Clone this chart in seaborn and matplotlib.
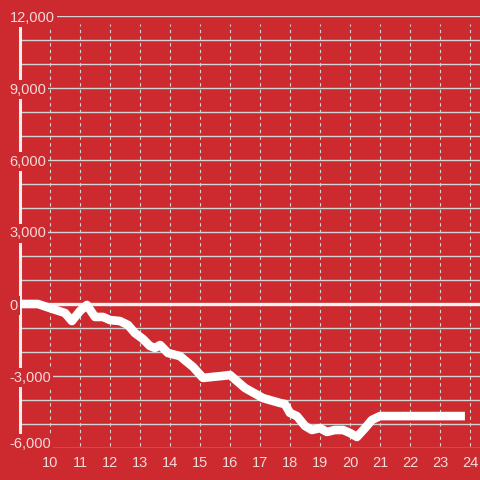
import matplotlib
matplotlib.use("Agg")
import matplotlib.pyplot as plt
import matplotlib.transforms as mtransforms
import numpy as np
import pandas as pd
import seaborn as sns

BG = "#cc2a2f"
GRID = "#d4d4d4"
TEXT = "#f3dada"

# Hours of the day and the running value
hours = [8.93, 9.6, 10.0, 10.5, 10.73, 11.0, 11.23, 11.5, 11.77, 12.0, 12.33, 12.6,
         12.83, 13.1, 13.33, 13.5, 13.67, 13.93, 14.33, 14.77, 15.1, 15.4, 15.73,
         16.0, 16.5, 17.1, 17.67, 17.83, 18.0, 18.23, 18.5, 18.73, 19.0, 19.23,
         19.5, 19.77, 20.0, 20.23, 20.5, 20.73, 21.0, 23.83]
values = [0, 0, -170, -375, -710, -290, -40, -540, -540, -670, -710, -875,
          -1210, -1460, -1750, -1830, -1710, -2040, -2170, -2625, -3080, -3040, -3000,
          -2960, -3500, -3920, -4125, -4170, -4540, -4670, -5080, -5250, -5170, -5330,
          -5250, -5250, -5375, -5540, -5170, -4830, -4670, -4670]

x_ticks = list(range(10, 25))
y_major = list(range(-6000, 12001, 3000))
y_minor = list(range(-6000, 12001, 1000))

df = pd.DataFrame({"hour": hours, "value": values})

sns.set_style("white", {"axes.facecolor": BG, "figure.facecolor": BG})
plt.rcParams["font.family"] = ["Liberation Sans", "DejaVu Sans"]

fig = plt.figure(figsize=(4.8, 4.8), dpi=100)
ax = fig.add_axes([16 / 480, 32 / 480, 464 / 480, 432 / 480])
ax.set_facecolor(BG)

x_left, x_right = 8.867, 24.333
y_top_grid = 11667
y_bot_grid = -5917

# horizontal grid lines, starting at the left spine
for v in y_minor:
    if v == 0:
        continue
    ax.hlines(v, 9, x_right, color=GRID, linewidth=1.0, zorder=1)
ax.axhline(0, color="#f2f2f2", linewidth=2.4, zorder=1.5)

# dashed vertical grid lines
ax.vlines(x_ticks, y_bot_grid, y_top_grid, color=GRID, linewidth=0.8,
          linestyles=(0, (3, 3)), zorder=1)

sns.lineplot(data=df, x="hour", y="value", ax=ax, color="white", linewidth=6.2,
             zorder=4, solid_joinstyle="round", solid_capstyle="butt")

ax.set_xlim(x_left, x_right)
ax.set_ylim(-6000, 12000)

for side in ["top", "right", "bottom"]:
    ax.spines[side].set_visible(False)
ax.spines["left"].set_position(("data", 9.0))
ax.spines["left"].set_bounds(-6000, 11667)
ax.spines["left"].set_color("#eeeeee")
ax.spines["left"].set_linewidth(2.2)
ax.spines["left"].set_zorder(2)

ax.set_xticks(x_ticks)
ax.set_xticklabels([str(t) for t in x_ticks])
ax.set_yticks(y_major)
ax.set_yticklabels([f"{v:,}" for v in y_major])
ax.tick_params(axis="x", length=0, pad=6, labelsize=10.5, labelcolor=TEXT)
ax.tick_params(axis="y", length=0, pad=7.5, labelsize=10.5, labelcolor=TEXT)
for lbl in ax.get_yticklabels():
    lbl.set_horizontalalignment("left")
    lbl.set_bbox(dict(facecolor=BG, edgecolor="none", pad=1.5))
# the lowest label sits a little above its grid line
low = ax.get_yticklabels()[0]
low.set_transform(low.get_transform() + mtransforms.ScaledTranslation(0, 6 / 100, fig.dpi_scale_trans))
ax.yaxis.set_zorder(5)
ax.set_xlabel("")
ax.set_ylabel("")

fig.savefig("out.png", dpi=100, facecolor=BG)
